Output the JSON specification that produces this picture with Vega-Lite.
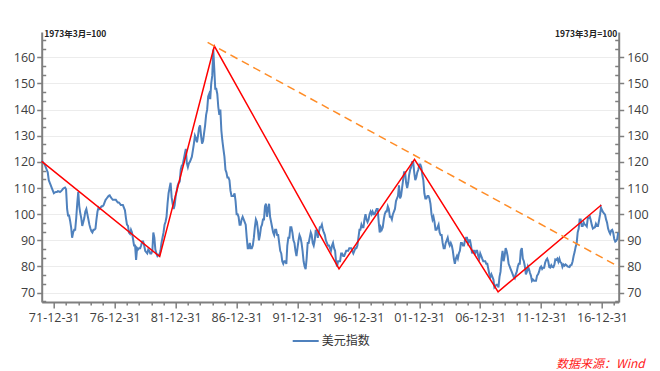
{
  "$schema": "https://vega.github.io/schema/vega-lite/v6.json",
  "width": 577,
  "height": 270,
  "autosize": "none",
  "padding": {"left": 41.7, "top": 32, "right": 41.3, "bottom": 69},
  "background": "white",
  "config": {
    "view": {"stroke": null},
    "axis": {"labelFont": "Open Sans", "labelFontSize": 12, "labelColor": "#404040", "domainColor": "#7f7f7f", "domainWidth": 2, "tickColor": "#7f7f7f", "tickWidth": 1.5}
  },
  "title": {"text": "数据来源：Wind", "orient": "bottom", "anchor": "end", "frame": "group", "color": "#FF2020", "fontStyle": "italic", "fontWeight": "normal", "font": "Noto Sans CJK SC", "fontSize": 12, "offset": 12, "dx": 26, "baseline": "top"},
  "datasets": {
    "dxy": [
      {"d":"1971-01","v":120.5},{"d":"1971-02","v":120},{"d":"1971-03","v":119.5},{"d":"1971-04","v":119},{"d":"1971-05","v":118},{"d":"1971-06","v":117},{"d":"1971-07","v":116},{"d":"1971-08","v":113},{"d":"1971-09","v":112},{"d":"1971-10","v":111},{"d":"1971-11","v":110},{"d":"1971-12","v":109},
      {"d":"1972-01","v":108},{"d":"1972-02","v":108.3},{"d":"1972-03","v":108.5},{"d":"1972-04","v":108.5},{"d":"1972-05","v":108.8},{"d":"1972-06","v":108.7},{"d":"1972-07","v":108.5},{"d":"1972-08","v":108.8},{"d":"1972-09","v":109.2},{"d":"1972-10","v":109.7},{"d":"1972-11","v":110},{"d":"1972-12","v":110.2},
      {"d":"1973-01","v":109.5},{"d":"1973-02","v":102},{"d":"1973-03","v":99.5},{"d":"1973-04","v":99.5},{"d":"1973-05","v":97.5},{"d":"1973-06","v":95},{"d":"1973-07","v":91},{"d":"1973-08","v":93},{"d":"1973-09","v":94},{"d":"1973-10","v":94},{"d":"1973-11","v":98.5},{"d":"1973-12","v":104},
      {"d":"1974-01","v":108.5},{"d":"1974-02","v":103},{"d":"1974-03","v":100.5},{"d":"1974-04","v":98.5},{"d":"1974-05","v":95.5},{"d":"1974-06","v":97},{"d":"1974-07","v":98.5},{"d":"1974-08","v":101},{"d":"1974-09","v":102},{"d":"1974-10","v":100},{"d":"1974-11","v":98},{"d":"1974-12","v":96},
      {"d":"1975-01","v":94.5},{"d":"1975-02","v":93.5},{"d":"1975-03","v":93},{"d":"1975-04","v":94},{"d":"1975-05","v":94},{"d":"1975-06","v":94.5},{"d":"1975-07","v":98},{"d":"1975-08","v":101},{"d":"1975-09","v":102.5},{"d":"1975-10","v":102},{"d":"1975-11","v":102.5},{"d":"1975-12","v":103},
      {"d":"1976-01","v":103},{"d":"1976-02","v":103.5},{"d":"1976-03","v":104.5},{"d":"1976-04","v":105.5},{"d":"1976-05","v":106},{"d":"1976-06","v":106.5},{"d":"1976-07","v":107},{"d":"1976-08","v":107.2},{"d":"1976-09","v":106.5},{"d":"1976-10","v":106},{"d":"1976-11","v":105.5},{"d":"1976-12","v":105.5},
      {"d":"1977-01","v":105.5},{"d":"1977-02","v":105.5},{"d":"1977-03","v":105},{"d":"1977-04","v":104.5},{"d":"1977-05","v":104.5},{"d":"1977-06","v":104},{"d":"1977-07","v":103.5},{"d":"1977-08","v":103.5},{"d":"1977-09","v":103.5},{"d":"1977-10","v":102.5},{"d":"1977-11","v":101.5},{"d":"1977-12","v":98.5},
      {"d":"1978-01","v":96},{"d":"1978-02","v":95.5},{"d":"1978-03","v":93},{"d":"1978-04","v":92.5},{"d":"1978-05","v":94},{"d":"1978-06","v":93},{"d":"1978-07","v":90.5},{"d":"1978-08","v":88},{"d":"1978-09","v":88},{"d":"1978-10","v":82.5},{"d":"1978-11","v":87},{"d":"1978-12","v":86.5},
      {"d":"1979-01","v":87},{"d":"1979-02","v":87},{"d":"1979-03","v":88},{"d":"1979-04","v":89.5},{"d":"1979-05","v":89.5},{"d":"1979-06","v":88},{"d":"1979-07","v":86},{"d":"1979-08","v":85.5},{"d":"1979-09","v":85},{"d":"1979-10","v":86.5},{"d":"1979-11","v":86},{"d":"1979-12","v":85},
      {"d":"1980-01","v":85},{"d":"1980-02","v":86},{"d":"1980-03","v":93},{"d":"1980-04","v":91},{"d":"1980-05","v":86.5},{"d":"1980-06","v":85},{"d":"1980-07","v":84},{"d":"1980-08","v":84.5},{"d":"1980-09","v":84.5},{"d":"1980-10","v":86},{"d":"1980-11","v":89},{"d":"1980-12","v":91},
      {"d":"1981-01","v":93},{"d":"1981-02","v":96},{"d":"1981-03","v":97},{"d":"1981-04","v":99},{"d":"1981-05","v":104},{"d":"1981-06","v":108},{"d":"1981-07","v":110},{"d":"1981-08","v":112},{"d":"1981-09","v":106.5},{"d":"1981-10","v":104},{"d":"1981-11","v":102},{"d":"1981-12","v":103.5},
      {"d":"1982-01","v":107},{"d":"1982-02","v":109},{"d":"1982-03","v":111},{"d":"1982-04","v":112},{"d":"1982-05","v":112.5},{"d":"1982-06","v":117},{"d":"1982-07","v":118.5},{"d":"1982-08","v":119},{"d":"1982-09","v":121},{"d":"1982-10","v":123},{"d":"1982-11","v":125},{"d":"1982-12","v":119.5},
      {"d":"1983-01","v":118},{"d":"1983-02","v":119.5},{"d":"1983-03","v":120},{"d":"1983-04","v":121},{"d":"1983-05","v":122},{"d":"1983-06","v":124.5},{"d":"1983-07","v":127},{"d":"1983-08","v":130},{"d":"1983-09","v":129},{"d":"1983-10","v":127.5},{"d":"1983-11","v":130},{"d":"1983-12","v":133},
      {"d":"1984-01","v":134},{"d":"1984-02","v":130},{"d":"1984-03","v":127},{"d":"1984-04","v":128},{"d":"1984-05","v":131},{"d":"1984-06","v":134},{"d":"1984-07","v":138},{"d":"1984-08","v":140},{"d":"1984-09","v":145},{"d":"1984-10","v":146},{"d":"1984-11","v":144},{"d":"1984-12","v":150},
      {"d":"1985-01","v":153},{"d":"1985-02","v":163},{"d":"1985-03","v":156},{"d":"1985-04","v":148},{"d":"1985-05","v":148},{"d":"1985-06","v":146},{"d":"1985-07","v":141},{"d":"1985-08","v":138},{"d":"1985-09","v":140},{"d":"1985-10","v":132},{"d":"1985-11","v":128},{"d":"1985-12","v":125},
      {"d":"1986-01","v":122},{"d":"1986-02","v":117},{"d":"1986-03","v":116},{"d":"1986-04","v":114},{"d":"1986-05","v":114},{"d":"1986-06","v":113},{"d":"1986-07","v":109},{"d":"1986-08","v":107},{"d":"1986-09","v":107},{"d":"1986-10","v":107},{"d":"1986-11","v":108},{"d":"1986-12","v":105},
      {"d":"1987-01","v":100},{"d":"1987-02","v":100},{"d":"1987-03","v":99},{"d":"1987-04","v":96},{"d":"1987-05","v":96},{"d":"1987-06","v":98},{"d":"1987-07","v":99},{"d":"1987-08","v":98},{"d":"1987-09","v":97},{"d":"1987-10","v":96},{"d":"1987-11","v":91},{"d":"1987-12","v":87},
      {"d":"1988-01","v":87},{"d":"1988-02","v":89},{"d":"1988-03","v":87},{"d":"1988-04","v":87},{"d":"1988-05","v":88},{"d":"1988-06","v":91},{"d":"1988-07","v":95},{"d":"1988-08","v":98},{"d":"1988-09","v":97},{"d":"1988-10","v":94},{"d":"1988-11","v":90},{"d":"1988-12","v":92},
      {"d":"1989-01","v":95},{"d":"1989-02","v":96},{"d":"1989-03","v":98},{"d":"1989-04","v":98},{"d":"1989-05","v":103},{"d":"1989-06","v":104},{"d":"1989-07","v":99},{"d":"1989-08","v":102},{"d":"1989-09","v":104},{"d":"1989-10","v":99},{"d":"1989-11","v":97},{"d":"1989-12","v":95},
      {"d":"1990-01","v":93},{"d":"1990-02","v":92},{"d":"1990-03","v":94},{"d":"1990-04","v":94},{"d":"1990-05","v":92},{"d":"1990-06","v":92},{"d":"1990-07","v":89},{"d":"1990-08","v":86},{"d":"1990-09","v":85},{"d":"1990-10","v":82},{"d":"1990-11","v":81},{"d":"1990-12","v":82},
      {"d":"1991-01","v":82},{"d":"1991-02","v":81},{"d":"1991-03","v":88},{"d":"1991-04","v":91},{"d":"1991-05","v":91},{"d":"1991-06","v":95},{"d":"1991-07","v":95},{"d":"1991-08","v":93},{"d":"1991-09","v":90},{"d":"1991-10","v":89},{"d":"1991-11","v":86},{"d":"1991-12","v":84},
      {"d":"1992-01","v":87},{"d":"1992-02","v":90},{"d":"1992-03","v":92},{"d":"1992-04","v":91},{"d":"1992-05","v":89},{"d":"1992-06","v":86},{"d":"1992-07","v":82},{"d":"1992-08","v":80},{"d":"1992-09","v":79},{"d":"1992-10","v":83},{"d":"1992-11","v":89},{"d":"1992-12","v":89},
      {"d":"1993-01","v":91},{"d":"1993-02","v":93},{"d":"1993-03","v":92},{"d":"1993-04","v":89},{"d":"1993-05","v":88},{"d":"1993-06","v":90},{"d":"1993-07","v":94},{"d":"1993-08","v":93},{"d":"1993-09","v":91},{"d":"1993-10","v":93},{"d":"1993-11","v":95},{"d":"1993-12","v":95},
      {"d":"1994-01","v":96},{"d":"1994-02","v":94},{"d":"1994-03","v":93},{"d":"1994-04","v":92},{"d":"1994-05","v":90},{"d":"1994-06","v":89},{"d":"1994-07","v":88},{"d":"1994-08","v":88},{"d":"1994-09","v":87},{"d":"1994-10","v":86},{"d":"1994-11","v":88},{"d":"1994-12","v":89},
      {"d":"1995-01","v":87},{"d":"1995-02","v":86},{"d":"1995-03","v":82},{"d":"1995-04","v":80},{"d":"1995-05","v":82},{"d":"1995-06","v":82},{"d":"1995-07","v":82},{"d":"1995-08","v":85},{"d":"1995-09","v":85},{"d":"1995-10","v":84},{"d":"1995-11","v":84},{"d":"1995-12","v":85},
      {"d":"1996-01","v":86},{"d":"1996-02","v":86},{"d":"1996-03","v":86},{"d":"1996-04","v":87},{"d":"1996-05","v":87},{"d":"1996-06","v":87},{"d":"1996-07","v":86},{"d":"1996-08","v":85},{"d":"1996-09","v":86},{"d":"1996-10","v":87},{"d":"1996-11","v":87},{"d":"1996-12","v":88},
      {"d":"1997-01","v":91},{"d":"1997-02","v":94},{"d":"1997-03","v":94},{"d":"1997-04","v":96},{"d":"1997-05","v":95},{"d":"1997-06","v":95},{"d":"1997-07","v":98},{"d":"1997-08","v":100},{"d":"1997-09","v":98},{"d":"1997-10","v":97},{"d":"1997-11","v":98},{"d":"1997-12","v":100},
      {"d":"1998-01","v":101},{"d":"1998-02","v":100},{"d":"1998-03","v":101},{"d":"1998-04","v":100},{"d":"1998-05","v":100},{"d":"1998-06","v":101},{"d":"1998-07","v":102},{"d":"1998-08","v":102},{"d":"1998-09","v":97},{"d":"1998-10","v":93},{"d":"1998-11","v":95},{"d":"1998-12","v":94},
      {"d":"1999-01","v":95},{"d":"1999-02","v":98},{"d":"1999-03","v":100},{"d":"1999-04","v":101},{"d":"1999-05","v":101},{"d":"1999-06","v":103},{"d":"1999-07","v":102},{"d":"1999-08","v":99},{"d":"1999-09","v":99},{"d":"1999-10","v":98},{"d":"1999-11","v":100},{"d":"1999-12","v":101},
      {"d":"2000-01","v":102},{"d":"2000-02","v":105},{"d":"2000-03","v":106},{"d":"2000-04","v":107},{"d":"2000-05","v":111},{"d":"2000-06","v":106},{"d":"2000-07","v":107},{"d":"2000-08","v":110},{"d":"2000-09","v":113},{"d":"2000-10","v":116},{"d":"2000-11","v":116},{"d":"2000-12","v":112},
      {"d":"2001-01","v":110},{"d":"2001-02","v":112},{"d":"2001-03","v":115},{"d":"2001-04","v":117},{"d":"2001-05","v":118},{"d":"2001-06","v":120},{"d":"2001-07","v":120},{"d":"2001-08","v":116},{"d":"2001-09","v":113},{"d":"2001-10","v":114},{"d":"2001-11","v":116},{"d":"2001-12","v":117},
      {"d":"2002-01","v":119},{"d":"2002-02","v":119},{"d":"2002-03","v":118},{"d":"2002-04","v":115},{"d":"2002-05","v":113},{"d":"2002-06","v":108},{"d":"2002-07","v":106},{"d":"2002-08","v":106},{"d":"2002-09","v":107},{"d":"2002-10","v":107},{"d":"2002-11","v":106},{"d":"2002-12","v":104},
      {"d":"2003-01","v":100},{"d":"2003-02","v":98},{"d":"2003-03","v":99},{"d":"2003-04","v":97},{"d":"2003-05","v":94},{"d":"2003-06","v":94},{"d":"2003-07","v":95},{"d":"2003-08","v":96},{"d":"2003-09","v":93},{"d":"2003-10","v":92},{"d":"2003-11","v":92},{"d":"2003-12","v":89},
      {"d":"2004-01","v":87},{"d":"2004-02","v":87},{"d":"2004-03","v":89},{"d":"2004-04","v":90},{"d":"2004-05","v":91},{"d":"2004-06","v":89},{"d":"2004-07","v":88},{"d":"2004-08","v":89},{"d":"2004-09","v":88},{"d":"2004-10","v":86},{"d":"2004-11","v":83},{"d":"2004-12","v":81},
      {"d":"2005-01","v":83},{"d":"2005-02","v":84},{"d":"2005-03","v":83},{"d":"2005-04","v":85},{"d":"2005-05","v":86},{"d":"2005-06","v":89},{"d":"2005-07","v":89},{"d":"2005-08","v":88},{"d":"2005-09","v":88},{"d":"2005-10","v":90},{"d":"2005-11","v":91},{"d":"2005-12","v":91},
      {"d":"2006-01","v":89},{"d":"2006-02","v":90},{"d":"2006-03","v":90},{"d":"2006-04","v":88},{"d":"2006-05","v":85},{"d":"2006-06","v":86},{"d":"2006-07","v":86},{"d":"2006-08","v":85},{"d":"2006-09","v":86},{"d":"2006-10","v":86},{"d":"2006-11","v":84},{"d":"2006-12","v":83},
      {"d":"2007-01","v":85},{"d":"2007-02","v":84},{"d":"2007-03","v":83},{"d":"2007-04","v":82},{"d":"2007-05","v":82},{"d":"2007-06","v":82},{"d":"2007-07","v":81},{"d":"2007-08","v":81},{"d":"2007-09","v":79},{"d":"2007-10","v":77},{"d":"2007-11","v":76},{"d":"2007-12","v":77},
      {"d":"2008-01","v":76},{"d":"2008-02","v":75},{"d":"2008-03","v":72},{"d":"2008-04","v":72.5},{"d":"2008-05","v":73},{"d":"2008-06","v":73},{"d":"2008-07","v":72},{"d":"2008-08","v":76},{"d":"2008-09","v":78},{"d":"2008-10","v":83},{"d":"2008-11","v":86},{"d":"2008-12","v":82},
      {"d":"2009-01","v":84},{"d":"2009-02","v":87},{"d":"2009-03","v":86},{"d":"2009-04","v":84},{"d":"2009-05","v":81},{"d":"2009-06","v":80},{"d":"2009-07","v":79},{"d":"2009-08","v":78},{"d":"2009-09","v":77},{"d":"2009-10","v":76},{"d":"2009-11","v":75.5},{"d":"2009-12","v":77},
      {"d":"2010-01","v":78},{"d":"2010-02","v":80},{"d":"2010-03","v":81},{"d":"2010-04","v":81},{"d":"2010-05","v":86},{"d":"2010-06","v":87},{"d":"2010-07","v":83},{"d":"2010-08","v":82},{"d":"2010-09","v":80},{"d":"2010-10","v":77},{"d":"2010-11","v":78},{"d":"2010-12","v":80},
      {"d":"2011-01","v":79},{"d":"2011-02","v":77.5},{"d":"2011-03","v":76.5},{"d":"2011-04","v":74.5},{"d":"2011-05","v":75},{"d":"2011-06","v":74.5},{"d":"2011-07","v":74.5},{"d":"2011-08","v":74.5},{"d":"2011-09","v":76.5},{"d":"2011-10","v":77},{"d":"2011-11","v":78},{"d":"2011-12","v":79.5},
      {"d":"2012-01","v":80},{"d":"2012-02","v":79},{"d":"2012-03","v":79.5},{"d":"2012-04","v":79.5},{"d":"2012-05","v":81.5},{"d":"2012-06","v":82.5},{"d":"2012-07","v":83},{"d":"2012-08","v":82},{"d":"2012-09","v":79.8},{"d":"2012-10","v":79.6},{"d":"2012-11","v":80.5},{"d":"2012-12","v":79.8},
      {"d":"2013-01","v":79.7},{"d":"2013-02","v":80.7},{"d":"2013-03","v":82.7},{"d":"2013-04","v":82.5},{"d":"2013-05","v":83},{"d":"2013-06","v":81.8},{"d":"2013-07","v":83},{"d":"2013-08","v":81.6},{"d":"2013-09","v":81.3},{"d":"2013-10","v":79.8},{"d":"2013-11","v":80.7},{"d":"2013-12","v":80.3},
      {"d":"2014-01","v":80.8},{"d":"2014-02","v":80.5},{"d":"2014-03","v":80},{"d":"2014-04","v":79.9},{"d":"2014-05","v":79.8},{"d":"2014-06","v":80.5},{"d":"2014-07","v":80.6},{"d":"2014-08","v":81.9},{"d":"2014-09","v":84},{"d":"2014-10","v":85.5},{"d":"2014-11","v":87.5},{"d":"2014-12","v":88.8},
      {"d":"2015-01","v":93},{"d":"2015-02","v":94.5},{"d":"2015-03","v":98},{"d":"2015-04","v":98},{"d":"2015-05","v":95.5},{"d":"2015-06","v":95.5},{"d":"2015-07","v":96.8},{"d":"2015-08","v":96},{"d":"2015-09","v":95.8},{"d":"2015-10","v":95.3},{"d":"2015-11","v":98.5},{"d":"2015-12","v":98.5},
      {"d":"2016-01","v":99},{"d":"2016-02","v":97.5},{"d":"2016-03","v":95.8},{"d":"2016-04","v":94.5},{"d":"2016-05","v":94.8},{"d":"2016-06","v":95},{"d":"2016-07","v":96.3},{"d":"2016-08","v":95.5},{"d":"2016-09","v":95.5},{"d":"2016-10","v":97.5},{"d":"2016-11","v":99.8},{"d":"2016-12","v":102.5},
      {"d":"2017-01","v":101.5},{"d":"2017-02","v":100.8},{"d":"2017-03","v":100.3},{"d":"2017-04","v":99.8},{"d":"2017-05","v":98},{"d":"2017-06","v":96.7},{"d":"2017-07","v":94.5},{"d":"2017-08","v":93.3},{"d":"2017-09","v":92.5},{"d":"2017-10","v":93.7},{"d":"2017-11","v":94},{"d":"2017-12","v":93},
      {"d":"2018-01","v":90.5},{"d":"2018-02","v":89.5},{"d":"2018-03","v":89.8},{"d":"2018-04","v":90.5},{"d":"2018-05","v":93}
    ],
    "red": [
      {"d":"1971-01-01","v":120.2},{"d":"1980-09-08","v":83.8},{"d":"1985-03-05","v":164.3},{"d":"1995-05-30","v":79.06},{"d":"2001-08-10","v":121},{"d":"2008-06-20","v":70.3},{"d":"2016-12-10","v":103.5}
    ],
    "orange": [
      {"d":"1984-08-15","v":165.7},{"d":"2018-05-15","v":79.9}
    ]
  },
  "layer": [
    {
      "data": {"name": "dxy"},
      "mark": {"type": "line", "strokeWidth": 2, "interpolate": "linear"},
      "encoding": {
        "x": {"field": "d", "type": "temporal", "scale": {"type": "utc", "domain": [{"year":1971,"month":1,"date":1,"utc":true},{"year":2018,"month":5,"date":15,"utc":true}]}, "axis": {
          "title": null, "grid": false, "orient": "bottom",
          "values": [
            {"year":1971,"month":12,"date":31,"utc":true},{"year":1976,"month":12,"date":31,"utc":true},{"year":1981,"month":12,"date":31,"utc":true},{"year":1986,"month":12,"date":31,"utc":true},{"year":1991,"month":12,"date":31,"utc":true},
            {"year":1996,"month":12,"date":31,"utc":true},{"year":2001,"month":12,"date":31,"utc":true},{"year":2006,"month":12,"date":31,"utc":true},{"year":2011,"month":12,"date":31,"utc":true},{"year":2016,"month":12,"date":31,"utc":true}
          ],
          "format": "%y-%m-%d", "tickSize": 6, "labelPadding": 3, "labelFlush": false, "labelOverlap": false, "labelFontSize": 12.5
        }},
        "y": {"field": "v", "type": "quantitative", "scale": {"domain": [66.4, 169.7], "nice": false, "zero": false}, "axis": {
          "orient": "left", "values": [70,80,90,100,110,120,130,140,150,160], "grid": true, "gridColor": "#ececec", "gridWidth": 1,
          "tickSize": 5, "labelPadding": 2, "labelFontSize": 12.5,
          "title": "1973年3月=100", "titleAngle": 0, "titleX": 2, "titleY": -3, "titleAlign": "left", "titleBaseline": "top",
          "titleFont": "Noto Sans CJK SC", "titleFontSize": 8.5, "titleFontWeight": "bold", "titleColor": "#222"
        }},
        "color": {"datum": "美元指数", "type": "nominal", "scale": {"range": ["#4F81BD"]}, "legend": {
          "orient": "none", "legendX": 250, "legendY": 295, "direction": "horizontal", "title": null,
          "symbolType": "stroke", "symbolSize": 676, "symbolStrokeWidth": 2, "labelFont": "Noto Sans CJK SC", "labelFontSize": 12, "labelColor": "#333", "labelOffset": 2
        }}
      }
    },
    {
      "data": {"name": "red"},
      "mark": {"type": "line", "color": "#FF0000", "strokeWidth": 1.5},
      "encoding": {
        "x": {"field": "d", "type": "temporal", "axis": {
          "title": null, "grid": false, "orient": "bottom", "labels": false, "domain": false, "tickSize": 3,
          "values": [
            {"year":1972,"month":12,"date":31,"utc":true},{"year":1973,"month":12,"date":31,"utc":true},{"year":1974,"month":12,"date":31,"utc":true},{"year":1975,"month":12,"date":31,"utc":true},
            {"year":1977,"month":12,"date":31,"utc":true},{"year":1978,"month":12,"date":31,"utc":true},{"year":1979,"month":12,"date":31,"utc":true},{"year":1980,"month":12,"date":31,"utc":true},
            {"year":1982,"month":12,"date":31,"utc":true},{"year":1983,"month":12,"date":31,"utc":true},{"year":1984,"month":12,"date":31,"utc":true},{"year":1985,"month":12,"date":31,"utc":true},
            {"year":1987,"month":12,"date":31,"utc":true},{"year":1988,"month":12,"date":31,"utc":true},{"year":1989,"month":12,"date":31,"utc":true},{"year":1990,"month":12,"date":31,"utc":true},
            {"year":1992,"month":12,"date":31,"utc":true},{"year":1993,"month":12,"date":31,"utc":true},{"year":1994,"month":12,"date":31,"utc":true},{"year":1995,"month":12,"date":31,"utc":true},
            {"year":1997,"month":12,"date":31,"utc":true},{"year":1998,"month":12,"date":31,"utc":true},{"year":1999,"month":12,"date":31,"utc":true},{"year":2000,"month":12,"date":31,"utc":true},
            {"year":2002,"month":12,"date":31,"utc":true},{"year":2003,"month":12,"date":31,"utc":true},{"year":2004,"month":12,"date":31,"utc":true},{"year":2005,"month":12,"date":31,"utc":true},
            {"year":2007,"month":12,"date":31,"utc":true},{"year":2008,"month":12,"date":31,"utc":true},{"year":2009,"month":12,"date":31,"utc":true},{"year":2010,"month":12,"date":31,"utc":true},
            {"year":2012,"month":12,"date":31,"utc":true},{"year":2013,"month":12,"date":31,"utc":true},{"year":2014,"month":12,"date":31,"utc":true},{"year":2015,"month":12,"date":31,"utc":true},
            {"year":2017,"month":12,"date":31,"utc":true}
          ]
        }},
        "y": {"field": "v", "type": "quantitative", "axis": {
          "orient": "right", "values": [70,80,90,100,110,120,130,140,150,160], "grid": false,
          "tickSize": 5, "labelPadding": 3, "labelFontSize": 12.5,
          "title": "1973年3月=100", "titleAngle": 0, "titleX": -2, "titleY": -3, "titleAlign": "right", "titleBaseline": "top",
          "titleFont": "Noto Sans CJK SC", "titleFontSize": 8.5, "titleFontWeight": "bold", "titleColor": "#222"
        }}
      }
    },
    {
      "data": {"name": "orange"},
      "mark": {"type": "line", "color": "#FF8C26", "strokeWidth": 1.5, "strokeDash": [8, 5]},
      "encoding": {
        "x": {"field": "d", "type": "temporal", "axis": null},
        "y": {"field": "v", "type": "quantitative", "axis": {
          "orient": "left", "values": [66.667,73.333,76.667,83.333,86.667,93.333,96.667,103.333,106.667,113.333,116.667,123.333,126.667,133.333,136.667,143.333,146.667,153.333,156.667,163.333,166.667],
          "labels": false, "domain": false, "grid": false, "tickSize": -4, "title": null
        }}
      }
    },
    {
      "data": {"name": "orange"},
      "mark": {"type": "line", "opacity": 0},
      "encoding": {
        "x": {"field": "d", "type": "temporal", "axis": null},
        "y": {"field": "v", "type": "quantitative", "axis": {
          "orient": "right", "values": [66.667,73.333,76.667,83.333,86.667,93.333,96.667,103.333,106.667,113.333,116.667,123.333,126.667,133.333,136.667,143.333,146.667,153.333,156.667,163.333,166.667],
          "labels": false, "domain": false, "grid": false, "tickSize": -4, "title": null
        }}
      }
    }
  ],
  "resolve": {"axis": {"x": "independent", "y": "independent"}}
}
